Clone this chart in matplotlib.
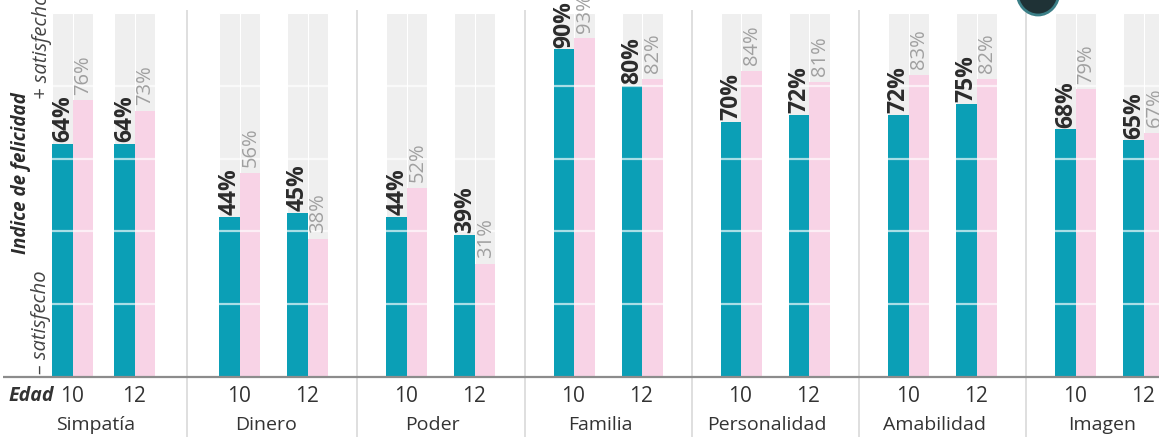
import matplotlib
matplotlib.use('Agg')
import matplotlib.pyplot as plt
from matplotlib.patches import Ellipse

plt.rcParams['font.family'] = ['Open Sans', 'DejaVu Sans']

categories = ['Simpatía', 'Dinero', 'Poder', 'Familia', 'Personalidad', 'Amabilidad', 'Imagen']
ages = ['10', '12']
# teal = niños, pink = niñas  (index de felicidad, %)
ninos_10 = [64, 44, 44, 90, 70, 72, 68]
ninos_12 = [64, 45, 39, 80, 72, 75, 65]
ninas_10 = [76, 56, 52, 93, 84, 83, 79]
ninas_12 = [73, 38, 31, 82, 81, 82, 67]

teal = '#0b9fb6'
pink = '#f8d3e6'
grey_bg = '#efefef'

# layout in pixel-like units on x, values (%) on y
W, H = 1159, 437
base_px = 377.0
px_per_unit = 3.64


def v(ypx):
    return (base_px - ypx) / px_per_unit


x0 = 52
step = 167.2
bw = 20.5

fig = plt.figure(figsize=(W / 100, H / 100), dpi=100)
ax = fig.add_axes([0, 0, 1, 1])
ax.set_xlim(0, W)
ax.set_ylim(v(H), v(0))
ax.axis('off')

for i, cat in enumerate(categories):
    start = x0 + step * i
    # first group is a bit tighter in the original
    age_off = 62 if i == 0 else 68
    pairs = [(ninos_10[i], ninas_10[i]), (ninos_12[i], ninas_12[i])]
    for j, (b, g) in enumerate(pairs):
        xl = start + age_off * j
        xb = xl + bw / 2
        xg = xl + bw * 1.5
        # grey background columns (0-100)
        ax.bar([xb, xg], [100, 100], width=bw, color=grey_bg, edgecolor='white',
               linewidth=0.8, zorder=1)
        ax.bar(xb, b, width=bw, color=teal, zorder=2)
        ax.bar(xg, g, width=bw, color=pink, zorder=2)
        # white guide lines across the columns
        for gl in [20, 40, 60, 80]:
            ax.hlines(gl, xl, xl + 2 * bw, color='white', lw=1.6, alpha=0.65, zorder=3)
        ax.text(xb + 0.5, b + 0.5, f'{b}%', rotation=90, ha='center', va='bottom',
                fontsize=16.5, fontweight='bold', color='#2b2b2b', zorder=4)
        ax.text(xg + 0.5, g + 1.6, f'{g}%', rotation=90, ha='center', va='bottom',
                fontsize=14.5, color='#a0a0a0', zorder=4)
        ax.text(xl + bw - 1, v(396), ages[j], ha='center', va='center',
                fontsize=15, color='#333333')
    mid = start + bw + age_off / 2 - 8
    ax.text(mid, v(425), cat, ha='center', va='center',
            fontsize=14, color='#333333')
    # separator after each group
    if i < len(categories) - 1:
        sep = (start + age_off + 2 * bw + x0 + step * (i + 1)) / 2
        ax.vlines(sep, v(H), v(10), color='#d9d9d9', lw=1.2, zorder=0)

# baseline
ax.hlines(0, 3, W, color='#8c8c8c', lw=1.6, zorder=5)

# left-hand labels
ax.text(31, v(396), 'Edad', ha='center', va='center', fontsize=14,
        fontweight='bold', fontstyle='italic', color='#333333')
ax.text(21, v(173), 'Indice de felicidad', rotation=90, ha='center', va='center',
        fontsize=13.5, fontweight='bold', fontstyle='italic', color='#2b2b2b')
ax.text(42, v(99), '+ satisfecho', rotation=90, ha='center', va='bottom',
        fontsize=14.5, fontstyle='italic', color='#444444')
ax.text(41, v(374), '– satisfecho', rotation=90, ha='center', va='bottom',
        fontsize=14.5, fontstyle='italic', color='#444444')

# bit of the logo peeking in at the top
ax.add_patch(Ellipse((1038, v(-8)), 42, 46 / px_per_unit, facecolor='#1f3236',
                     edgecolor='#3b7f87', lw=2, zorder=6))

fig.savefig('out.png', dpi=100)
